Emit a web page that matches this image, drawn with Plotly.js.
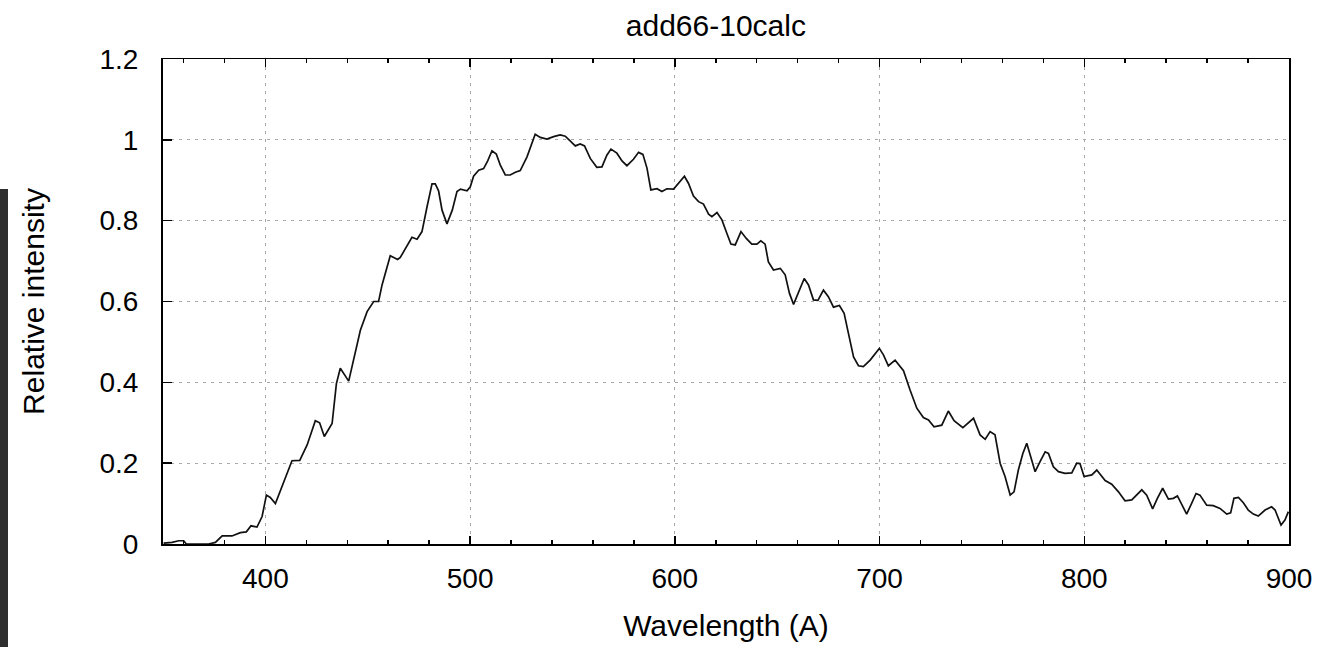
<!DOCTYPE html>
<html>
<head>
<meta charset="utf-8">
<script src="https://cdn.plot.ly/plotly-3.0.1.min.js"></script>
<style>
  html, body { margin: 0; padding: 0; background: #ffffff; }
  #chart { width: 1333px; height: 647px; }
  #edge { position: absolute; left: 0; top: 189px; width: 8px; height: 458px; background: #2e2e2e; }
</style>
</head>
<body>
<div id="chart"></div>
<div id="edge"></div>
<script>
// Calculated spectrum add66-10calc: wavelength and relative intensity
const wavelength = [
  350.3, 354.4, 357.7, 360.1, 361.4, 366.0, 372.3, 375.6, 378.9, 383.7,
  387.8, 390.7, 393.0, 395.9, 398.4, 400.5, 402.4, 404.9, 408.9, 413.0,
  416.8, 420.4, 424.4, 426.5, 428.8, 432.6, 434.7, 436.6, 440.7, 443.9,
  446.4, 449.7, 452.9, 455.3, 457.0, 461.0, 464.6, 465.9, 469.2, 471.6,
  474.1, 476.5, 479.0, 481.4, 483.0, 484.6, 486.3, 488.7, 491.3, 493.6,
  495.3, 498.5, 500.1, 501.7, 504.2, 506.6, 508.6, 510.7, 512.8, 514.7,
  517.2, 519.6, 522.1, 524.5, 527.8, 530.2, 531.8, 534.3, 537.5, 540.8,
  544.0, 546.5, 548.9, 551.4, 553.8, 555.9, 558.7, 561.9, 564.4, 566.8,
  568.8, 571.7, 574.2, 576.6, 579.8, 582.3, 584.4, 586.4, 588.3, 591.3,
  593.7, 596.1, 599.4, 601.8, 604.7, 606.7, 609.1, 611.6, 614.0, 616.5,
  618.1, 620.6, 623.0, 625.4, 627.4, 629.5, 632.3, 634.9, 637.6, 640.1,
  642.0, 644.1, 645.7, 648.2, 651.5, 653.9, 656.0, 658.0, 660.4, 663.2,
  665.3, 667.7, 669.9, 672.6, 675.0, 677.5, 680.4, 682.7, 684.8, 687.3,
  689.7, 692.1, 695.4, 697.8, 699.9, 701.9, 704.3, 707.6, 711.7, 714.9,
  718.2, 721.4, 723.9, 726.6, 730.4, 733.6, 736.4, 740.7, 743.4, 745.9,
  749.1, 751.6, 754.0, 756.4, 758.9, 761.3, 763.8, 765.7, 767.8, 770.0,
  771.9, 773.9, 776.0, 778.4, 780.9, 782.5, 784.9, 787.4, 790.6, 793.9,
  796.3, 797.9, 799.9, 803.7, 806.1, 810.2, 813.4, 816.7, 819.9, 823.2,
  825.6, 828.1, 830.5, 833.4, 835.7, 838.3, 841.1, 843.5, 845.5, 847.6,
  850.0, 852.5, 854.6, 856.5, 859.8, 863.0, 866.3, 869.6, 871.5, 873.1,
  875.3, 877.7, 880.1, 882.6, 885.0, 888.3, 891.5, 893.2, 896.1, 898.0,
  899.7
];
const intensity = [
  0.002, 0.004, 0.008, 0.008, 0.000, 0.000, 0.000, 0.004, 0.020, 0.020,
  0.028, 0.030, 0.045, 0.042, 0.068, 0.121, 0.115, 0.100, 0.150, 0.206,
  0.207, 0.245, 0.305, 0.300, 0.266, 0.298, 0.397, 0.435, 0.403, 0.472,
  0.529, 0.575, 0.600, 0.600, 0.641, 0.713, 0.704, 0.709, 0.736, 0.759,
  0.754, 0.773, 0.835, 0.891, 0.891, 0.874, 0.826, 0.792, 0.826, 0.872,
  0.878, 0.874, 0.884, 0.910, 0.925, 0.929, 0.948, 0.973, 0.965, 0.938,
  0.913, 0.913, 0.920, 0.924, 0.958, 0.995, 1.014, 1.006, 1.002, 1.008,
  1.012, 1.009, 0.998, 0.985, 0.990, 0.985, 0.954, 0.932, 0.933, 0.962,
  0.977, 0.967, 0.948, 0.936, 0.952, 0.969, 0.964, 0.930, 0.876, 0.879,
  0.872, 0.879, 0.878, 0.892, 0.910, 0.892, 0.861, 0.847, 0.841, 0.816,
  0.810, 0.820, 0.802, 0.769, 0.742, 0.740, 0.773, 0.756, 0.742, 0.742,
  0.750, 0.742, 0.698, 0.678, 0.682, 0.666, 0.620, 0.593, 0.624, 0.657,
  0.641, 0.604, 0.603, 0.628, 0.612, 0.586, 0.590, 0.571, 0.521, 0.463,
  0.441, 0.439, 0.455, 0.472, 0.484, 0.468, 0.441, 0.455, 0.429, 0.381,
  0.336, 0.313, 0.307, 0.290, 0.294, 0.329, 0.305, 0.288, 0.299, 0.311,
  0.270, 0.259, 0.278, 0.270, 0.200, 0.167, 0.121, 0.129, 0.183, 0.224,
  0.249, 0.212, 0.179, 0.204, 0.228, 0.224, 0.191, 0.179, 0.175, 0.176,
  0.200, 0.199, 0.167, 0.171, 0.183, 0.157, 0.148, 0.129, 0.107, 0.109,
  0.121, 0.134, 0.121, 0.087, 0.113, 0.138, 0.111, 0.113, 0.119, 0.096,
  0.074, 0.101, 0.125, 0.121, 0.096, 0.095, 0.088, 0.074, 0.077, 0.113,
  0.115, 0.102, 0.084, 0.074, 0.069, 0.084, 0.092, 0.084, 0.047, 0.059,
  0.080
];

const chartTitle = 'add66-10calc';
const xLabel = 'Wavelength (A)';
const yLabel = 'Relative intensity';
const xTicks = [400, 500, 600, 700, 800, 900];
const yTicks = [0, 0.2, 0.4, 0.6, 0.8, 1, 1.2];

const font = 'Liberation Sans, Arial, Helvetica, sans-serif';

const trace = {
  x: wavelength,
  y: intensity,
  type: 'scatter',
  mode: 'lines',
  line: { color: '#111111', width: 1.7 },
  hoverinfo: 'x+y'
};

const layout = {
  width: 1333,
  height: 647,
  paper_bgcolor: '#ffffff',
  plot_bgcolor: '#ffffff',
  margin: { l: 163, r: 44, t: 59, b: 103 },
  showlegend: false,
  font: { family: font, color: '#000000', size: 28 },
  title: {
    text: chartTitle,
    font: { family: font, size: 30, color: '#000000' },
    x: 0.491, xref: 'paper', xanchor: 'center',
    y: 1, yref: 'container', yanchor: 'top', pad: { t: 15 }
  },
  xaxis: {
    range: [350, 900],
    tickmode: 'array',
    tickvals: xTicks,
    ticks: 'inside',
    ticklen: 8,
    tickwidth: 1.5,
    tickcolor: '#000000',
    tickfont: { family: font, size: 28 },
    ticklabelstandoff: 9,
    showline: true,
    linecolor: '#000000',
    linewidth: 1.5,
    mirror: 'ticks',
    showgrid: true,
    gridcolor: '#a8a8a8',
    gridwidth: 1,
    griddash: '3px,5px',
    zeroline: false,
    minor: { dtick: 20, tick0: 0, ticks: 'inside', ticklen: 4, tickwidth: 1.5, tickcolor: '#000000', showgrid: false },
    title: { text: xLabel, font: { family: font, size: 30 }, standoff: 22 },
    fixedrange: true
  },
  yaxis: {
    range: [0, 1.2],
    tickmode: 'array',
    tickvals: yTicks,
    ticks: 'inside',
    ticklen: 9,
    tickwidth: 1.5,
    tickcolor: '#000000',
    tickfont: { family: font, size: 28 },
    ticklabelstandoff: 17,
    showline: true,
    linecolor: '#000000',
    linewidth: 2,
    mirror: true,
    showgrid: true,
    gridcolor: '#a8a8a8',
    gridwidth: 1,
    griddash: '3px,5px',
    zeroline: false,
    title: { text: yLabel, font: { family: font, size: 30 }, standoff: 46 },
    fixedrange: true
  }
};

Plotly.newPlot('chart', [trace], layout, { displayModeBar: false, staticPlot: true });
</script>
</body>
</html>
